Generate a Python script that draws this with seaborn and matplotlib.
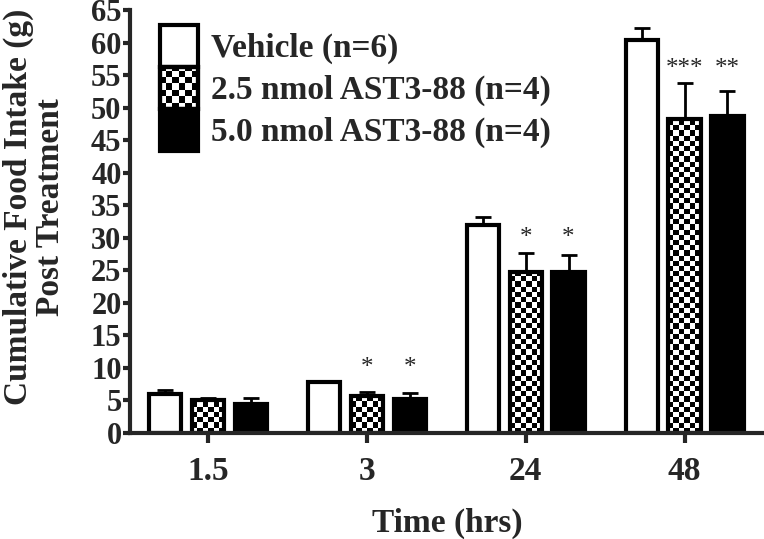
import numpy as np
import pandas as pd
import matplotlib
matplotlib.use("Agg")
import matplotlib.pyplot as plt
import seaborn as sns
from matplotlib.patches import Rectangle
from matplotlib.legend_handler import HandlerBase

# Dados
times = ["1.5", "3", "24", "48"]
groups = ["Vehicle (n=6)", "2.5 nmol AST3-88 (n=4)", "5.0 nmol AST3-88 (n=4)"]
vehicle = [6.0, 7.8, 32.0, 60.4]
low_dose = [5.0, 5.6, 24.8, 48.3]
high_dose = [4.4, 5.2, 24.7, 48.8]
sem_vehicle = [0.6, 0.2, 1.2, 1.8]
sem_low = [0.4, 0.7, 2.9, 5.5]
sem_high = [1.0, 1.0, 2.6, 3.8]
star_labels = [["", "", ""], ["", "*", "*"], ["", "*", "*"], ["", "***", "**"]]
star_y = [[0, 0, 0], [0, 9.0, 9.0], [0, 29.0, 29.0], [0, 55.0, 55.0]]

means = [vehicle, low_dose, high_dose]
sems = [sem_vehicle, sem_low, sem_high]

df = pd.DataFrame({
    "Time": np.tile(times, 3),
    "Intake": np.concatenate(means),
    "Group": np.repeat(groups, 4),
})

sns.set_style("ticks")
plt.rcParams["font.family"] = ["Liberation Serif", "DejaVu Serif"]
plt.rcParams["font.weight"] = "bold"

fig = plt.figure(figsize=(7.64, 5.39), dpi=100)
ax = fig.add_axes([0.170, 0.197, 0.830, 0.784])

sns.barplot(data=df, x="Time", y="Intake", hue="Group", order=times,
            hue_order=groups, palette=["white", "white", "black"],
            saturation=1, edgecolor="black", linewidth=3, width=0.81,
            gap=0.25, errorbar=None, legend=False, ax=ax)

# Padrão xadrez para a dose de 2.5 nmol
ncols = 6
for bar in ax.containers[1]:
    bar.set_facecolor("none")
    bar.set_zorder(2)
    x0, w, h = bar.get_x(), bar.get_width(), bar.get_height()
    sq = 0.8
    nrows = int(h / sq) + 1
    board = (np.add.outer(np.arange(nrows), np.arange(ncols)) % 2).astype(float)
    im = ax.imshow(board, cmap="gray_r", interpolation="nearest", aspect="auto",
                   extent=(x0, x0 + w, 0, nrows * sq), origin="lower", zorder=1.5)
    im.set_clip_path(bar)

# Barras de erro (só para cima)
for cont, sem in zip(ax.containers[:3], sems):
    for bar, s in zip(cont, sem):
        xc = bar.get_x() + bar.get_width() / 2
        ax.errorbar(xc, bar.get_height(), yerr=[[0], [s]], fmt="none",
                    ecolor="black", elinewidth=2, capsize=6, capthick=2, zorder=1)

# Asteriscos
for i in range(len(times)):
    for j in range(3):
        if star_labels[i][j]:
            bar = ax.containers[j][i]
            ax.text(bar.get_x() + bar.get_width() / 2, star_y[i][j], star_labels[i][j],
                    ha="center", va="baseline", fontsize=18, fontweight="normal")

ax.set_xlim(-0.49, 3.5)
ax.set_ylim(0, 65)
ax.set_yticks(range(0, 70, 5))
ax.set_xlabel("Time (hrs)", fontsize=24, fontweight="bold", labelpad=15)
ax.set_ylabel("Cumulative Food Intake (g)\nPost Treatment", fontsize=24,
              fontweight="bold", linespacing=1.05)
ax.yaxis.set_label_coords(-0.1, 0.534)
sns.despine(ax=ax)
for side in ["left", "bottom"]:
    ax.spines[side].set_linewidth(3)
ax.tick_params(axis="y", length=5, width=3, pad=1, labelsize=22)
ax.tick_params(axis="x", length=7, width=3, pad=10, labelsize=24)
for lab in ax.get_xticklabels() + ax.get_yticklabels():
    lab.set_fontweight("bold")


# Legenda em bloco
class BlockHandler(HandlerBase):
    def __init__(self, face, checker=False):
        super().__init__()
        self.face = face
        self.checker = checker

    def create_artists(self, legend, orig_handle, xdescent, ydescent, width,
                       height, fontsize, trans):
        x0, y0 = -xdescent, -ydescent
        arts = [Rectangle((x0, y0), width, height, facecolor=self.face,
                          edgecolor="black", lw=3, transform=trans)]
        if self.checker:
            n = 6
            s = width / n
            rows = int(height / s) + 1
            for r in range(rows):
                for c in range(n):
                    if (r + c) % 2 == 0:
                        hh = min(s, height - r * s)
                        if hh > 0:
                            arts.append(Rectangle((x0 + c * s, y0 + r * s), s, hh,
                                                  facecolor="black", lw=0, transform=trans))
            arts.append(Rectangle((x0, y0), width, height, facecolor="none",
                                  edgecolor="black", lw=3, transform=trans))
        return arts


handles = [Rectangle((0, 0), 1, 1) for _ in groups]
handler_map = {
    handles[0]: BlockHandler("white"),
    handles[1]: BlockHandler("white", checker=True),
    handles[2]: BlockHandler("black"),
}
ax.legend(handles, groups, handler_map=handler_map, loc="upper left",
          bbox_to_anchor=(0.047, 0.965), frameon=False, borderpad=0,
          borderaxespad=0, labelspacing=0, handleheight=1.56, handlelength=1.15,
          handletextpad=0.4, prop={"family": "Liberation Serif", "weight": "bold", "size": 24})

fig.savefig("out.png", dpi=100)
